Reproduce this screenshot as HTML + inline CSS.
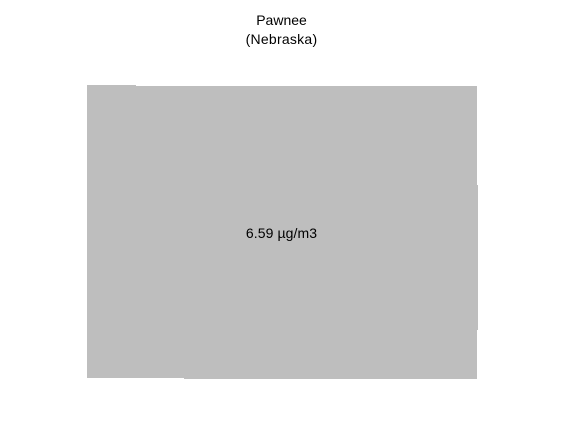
<!DOCTYPE html>
<html>
<head>
<meta charset="utf-8">
<title>Pawnee (Nebraska)</title>
<style>
html,body{margin:0;padding:0;background:#fff;width:565px;height:424px;overflow:hidden}
svg{display:block}
text{font-family:"Liberation Sans",sans-serif;font-size:14px;fill:#000;text-anchor:middle}
</style>
</head>
<body>
<svg width="565" height="424" viewBox="0 0 565 424" xmlns="http://www.w3.org/2000/svg" shape-rendering="crispEdges">
  <rect width="565" height="424" fill="#ffffff"/>
  <text x="281.5" y="25">Pawnee</text>
  <text x="281.5" y="44" letter-spacing="0.25">(Nebraska)</text>
  <polygon points="87,85 136,85 136,86 477,86 477,185 478,185 478,330 477,330 477,379 184,379 184,378 87,378" fill="#bebebe"/>
  <text x="281.5" y="238" letter-spacing="0.1">6.59 µg/m3</text>
</svg>
</body>
</html>
